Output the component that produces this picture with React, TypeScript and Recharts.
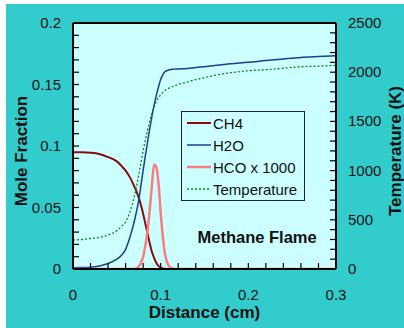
import React from "react";
import {
  LineChart,
  Line,
  XAxis,
  YAxis,
  Legend,
  ReferenceDot,
  Label,
} from "recharts";

// distance (cm) along the flame
const distance = [
  0, 0.01, 0.02, 0.03, 0.04, 0.05, 0.055, 0.06, 0.065, 0.07, 0.0725, 0.075,
  0.0775, 0.08, 0.0825, 0.085, 0.0875, 0.09, 0.0925, 0.095, 0.0975, 0.1,
  0.1025, 0.105, 0.11, 0.115, 0.12, 0.13, 0.14, 0.15, 0.16, 0.18, 0.2, 0.22,
  0.24, 0.26, 0.28, 0.3,
];

const ch4 = [
  0.095, 0.0949, 0.0945, 0.0935, 0.091, 0.0875, 0.084, 0.08, 0.0745, 0.067,
  0.063, 0.058, 0.052, 0.045, 0.037, 0.029, 0.021, 0.014, 0.009, 0.005,
  0.0025, 0.0012, 0.0005, 0.0002, 0, 0, 0, 0, 0, 0, 0, 0, 0, 0, 0, 0, 0, 0,
];

const h2o = [
  0.001, 0.0012, 0.0015, 0.0025, 0.0045, 0.008, 0.011, 0.016, 0.026, 0.039,
  0.047, 0.056, 0.068, 0.08, 0.092, 0.103, 0.114, 0.124, 0.133, 0.141, 0.148,
  0.154, 0.158, 0.1605, 0.162, 0.1625, 0.1627, 0.163, 0.1638, 0.1645, 0.1653,
  0.1668, 0.168, 0.1695, 0.1708, 0.172, 0.1727, 0.1733,
];

const hcoX1000 = [
  0, 0, 0, 0, 0, 0, 0, 0, 0, 0, 0.0008, 0.002, 0.005, 0.01, 0.019, 0.031,
  0.048, 0.068, 0.085, 0.083, 0.07, 0.046, 0.026, 0.012, 0.002, 0.0003, 0, 0,
  0, 0, 0, 0, 0, 0, 0, 0, 0, 0,
];

const temperature = [
  295, 300, 310, 320, 345, 390, 430, 480, 580, 740, 840, 960, 1080, 1200, 1310,
  1410, 1500, 1580, 1650, 1700, 1740, 1770, 1795, 1815, 1840, 1860, 1875, 1900,
  1925, 1945, 1965, 1995, 2015, 2025, 2040, 2055, 2062, 2068,
];

// labelled ticks
const xLabels = [0, 0.1, 0.2, 0.3];
const leftLabels = [0, 0.05, 0.1, 0.15, 0.2];
const rightLabels = [0, 500, 1000, 1500, 2000, 2500];
// all tick marks (minor + major)
const xTicks = Array.from({ length: 16 }, (_, i) => +(i * 0.02).toFixed(2));
const leftTicks = Array.from({ length: 21 }, (_, i) => +(i * 0.01).toFixed(2));
const rightTicks = Array.from({ length: 26 }, (_, i) => i * 100);

const data = distance.map((d, i) => ({
  distance: d,
  ch4: ch4[i],
  h2o: h2o[i],
  hco: hcoX1000[i],
  temperature: temperature[i],
}));

const series = [
  { key: "ch4", name: "CH4", color: "#8a0c0c", width: 2, dash: undefined, axis: "left" },
  { key: "h2o", name: "H2O", color: "#1d3f88", width: 1.5, dash: undefined, axis: "left" },
  { key: "hco", name: "HCO x 1000", color: "#ff7c7c", width: 2.5, dash: undefined, axis: "left" },
  { key: "temperature", name: "Temperature", color: "#0a870a", width: 1.3, dash: "2 2", axis: "right" },
];

const FONT = '"Liberation Sans", Arial, sans-serif';

// chart box: plot area spans 73..336 x 23..269
const M = { top: 23, left: 73, right: 68, bottom: 59 };
const W = 404;
const H = 328;
const TICK = 5;

const isLabel = (labels: number[], v: number) =>
  labels.some((l) => Math.abs(l - v) < 1e-9);

// tick = short inward mark + optional label
const makeTick = (labels: number[], side: "left" | "right" | "bottom") => (props: any) => {
  const { x, y, payload } = props;
  const v = payload.value;
  const show = isLabel(labels, v);
  let mark;
  let text = null;
  if (side === "bottom") {
    const y0 = M.top + (H - M.top - M.bottom);
    mark = <line x1={x} x2={x} y1={y0} y2={y0 - TICK - 1} stroke="#000" strokeWidth={1.2} />;
    if (show)
      text = (
        <text x={x} y={y0 + 31} textAnchor="middle" fontSize={15} fill="#111" fontFamily={FONT}>
          {v}
        </text>
      );
  } else {
    const x0 = side === "left" ? M.left : W - M.right;
    const dir = side === "left" ? 1 : -1;
    mark = <line x1={x0} x2={x0 + dir * (TICK + 1)} y1={y} y2={y} stroke="#000" strokeWidth={1.2} />;
    if (show)
      text = (
        <text
          x={x0 - dir * 12}
          y={y + 5}
          textAnchor={side === "left" ? "end" : "start"}
          fontSize={15}
          fill="#111"
          fontFamily={FONT}
        >
          {v}
        </text>
      );
  }
  return (
    <g>
      {mark}
      {text}
    </g>
  );
};

const VerticalTitle = (props: any) => {
  const { viewBox, value, offsetX } = props;
  const cx = viewBox.x + offsetX;
  const cy = viewBox.y + viewBox.height / 2 + 5;
  return (
    <text
      x={cx}
      y={cy}
      transform={`rotate(-90 ${cx} ${cy})`}
      textAnchor="middle"
      dominantBaseline="central"
      fontFamily={FONT}
      fontWeight="bold"
      fontSize={17}
      fill="#111"
    >
      {value}
    </text>
  );
};

const LegendBox = () => (
  <div
    style={{
      border: "1px solid #222",
      background: "#ccffff",
      width: 122,
      height: 88,
      fontFamily: FONT,
      fontSize: 15,
      color: "#111",
    }}
  >
    {series.map((s) => (
      <div
        key={s.key}
        style={{ height: 22, display: "flex", alignItems: "center", paddingLeft: 5 }}
      >
        <svg width={24} height={8} style={{ marginRight: 2 }}>
          <line
            x1={0}
            y1={4}
            x2={24}
            y2={4}
            stroke={s.color}
            strokeWidth={s.width}
            strokeDasharray={s.dash}
          />
        </svg>
        <span>{s.name}</span>
      </div>
    ))}
  </div>
);

export default function App() {
  return (
    <div style={{ position: "absolute", left: 0, top: 0, width: W, height: H, background: "#fff" }}>
      <div style={{ position: "absolute", left: 6, top: 4, width: W - 6, height: H - 4, background: "#33cccc" }} />
      <div
        style={{
          position: "absolute",
          left: M.left,
          top: M.top,
          width: W - M.left - M.right,
          height: H - M.top - M.bottom,
          background: "#ccffff",
        }}
      />
      <div style={{ position: "absolute", left: 0, top: 0 }}>
        <LineChart
          width={W}
          height={H}
          data={data}
          margin={{ top: M.top, right: 0, bottom: 0, left: 0 }}
          style={{ fontFamily: FONT }}
        >
          <XAxis
            xAxisId="x"
            dataKey="distance"
            type="number"
            domain={[0, 0.3]}
            ticks={xTicks}
            interval={0}
            height={M.bottom}
            tickLine={false}
            tick={makeTick(xLabels, "bottom")}
            axisLine={{ stroke: "#000", strokeWidth: 2 }}
            allowDataOverflow
          >
            <Label
              value="Distance (cm)"
              position="insideBottom"
              offset={10}
              style={{ fontFamily: FONT, fontWeight: "bold", fontSize: 17, fill: "#111" }}
            />
          </XAxis>
          <XAxis
            xAxisId="top"
            orientation="top"
            dataKey="distance"
            type="number"
            domain={[0, 0.3]}
            mirror
            tick={false}
            tickLine={false}
            axisLine={{ stroke: "#000", strokeWidth: 2 }}
            allowDataOverflow
          />
          <YAxis
            yAxisId="left"
            type="number"
            domain={[0, 0.2]}
            ticks={leftTicks}
            interval={0}
            width={M.left}
            tickLine={false}
            tick={makeTick(leftLabels, "left")}
            axisLine={{ stroke: "#000", strokeWidth: 2 }}
            allowDataOverflow
            label={<VerticalTitle value="Mole Fraction" offsetX={21} />}
          />
          <YAxis
            yAxisId="right"
            orientation="right"
            type="number"
            domain={[0, 2500]}
            ticks={rightTicks}
            interval={0}
            width={M.right}
            tickLine={false}
            tick={makeTick(rightLabels, "right")}
            axisLine={{ stroke: "#000", strokeWidth: 2 }}
            allowDataOverflow
            label={<VerticalTitle value="Temperature (K)" offsetX={59} />}
          />
          {series.map((s) => (
            <Line
              key={s.key}
              xAxisId="x"
              yAxisId={s.axis}
              dataKey={s.key}
              name={s.name}
              type="monotone"
              stroke={s.color}
              strokeWidth={s.width}
              strokeDasharray={s.dash}
              dot={false}
              activeDot={false}
              isAnimationActive={false}
            />
          ))}
          <ReferenceDot
            xAxisId="x"
            yAxisId="left"
            x={0.21}
            y={0.026}
            r={0}
            fill="none"
            stroke="none"
            label={{
              value: "Methane Flame",
              position: "center",
              style: { fontFamily: FONT, fontWeight: "bold", fontSize: 16.5, fill: "#111" },
            }}
          />
          <Legend
            content={<LegendBox />}
            layout="vertical"
            align="center"
            verticalAlign="middle"
            wrapperStyle={{ left: 181, top: 111, width: 124, height: 90 }}
          />
        </LineChart>
      </div>
    </div>
  );
}
